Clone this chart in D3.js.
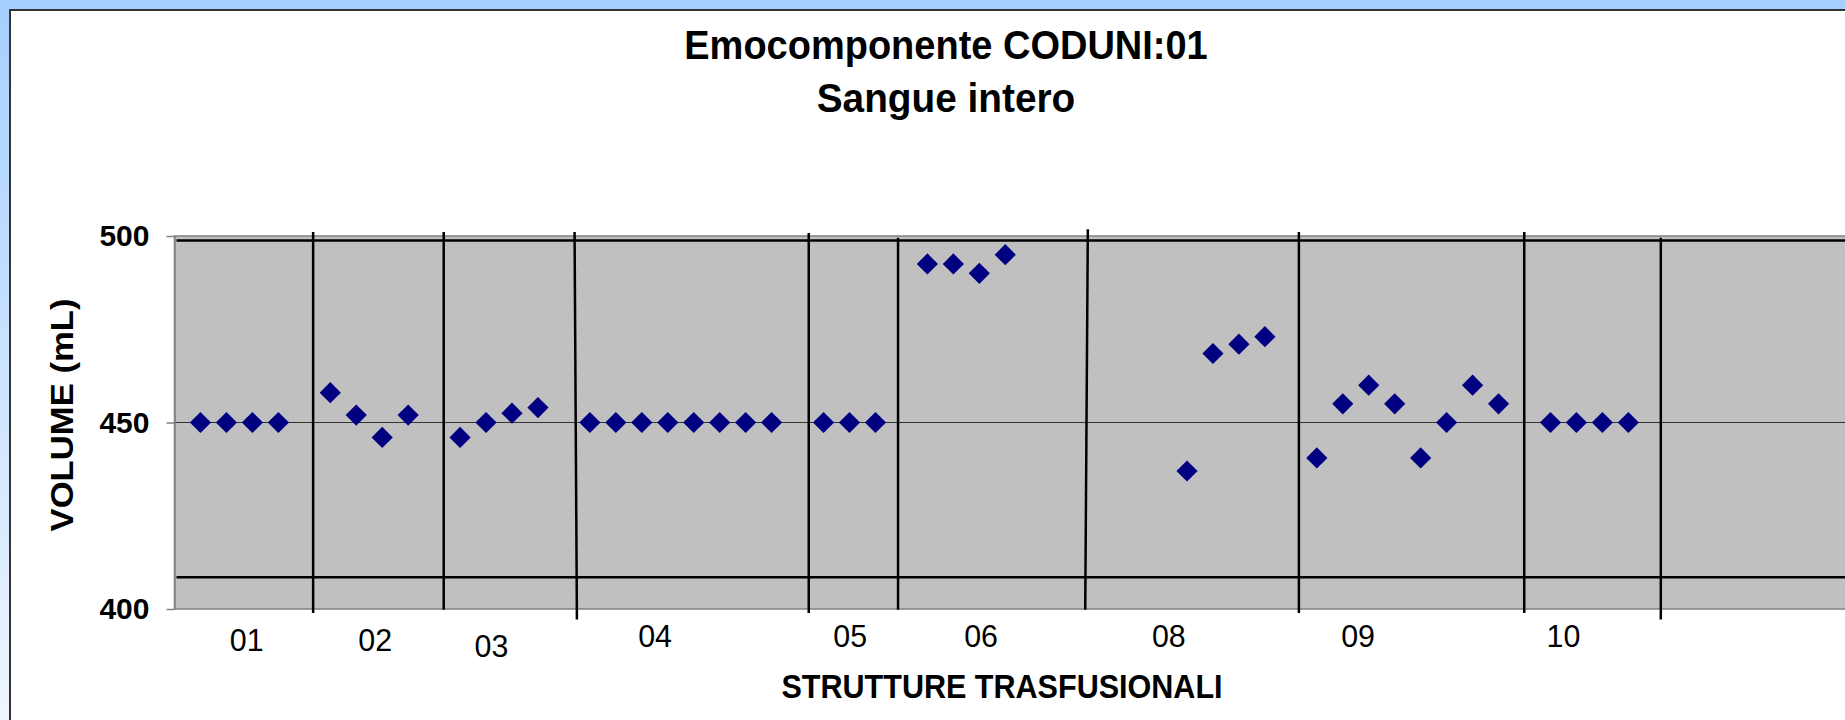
<!DOCTYPE html>
<html>
<head>
<meta charset="utf-8">
<script src="https://cdn.jsdelivr.net/npm/d3@7"></script>
<style>
    html, body { margin: 0; padding: 0; background: #fff; }
    svg { display: block; }
    text { font-family: "Liberation Sans", Arial, sans-serif; }
</style>
</head>
<body>
<div id="chart"></div>
<script>
var WIDTH = 1845,
    HEIGHT = 720;

// structures (categories) and where each one starts on the slot axis
var groupLabels = ["01", "02", "03", "04", "05", "06", "08", "09", "10"];
var groupStart = [0, 5, 10, 15, 24, 28, 38, 43, 52];
// where the hand-placed category labels sit, in slot units
var labelAt = [1.78, 6.73, 11.21, 17.51, 25.03, 30.07, 37.3, 44.59, 52.5];

// volumes (mL) per structure
var vol01 = [450, 450, 450, 450];
var vol02 = [458, 452, 446, 452];
var vol03 = [446, 450, 452.5, 454];
var vol04 = [450, 450, 450, 450, 450, 450, 450, 450];
var vol05 = [450, 450, 450];
var vol06 = [492.5, 492.5, 490, 495];
var vol08 = [437, 468.5, 471, 473];
var vol09 = [440.5, 455, 460, 455, 440.5, 450, 460, 455];
var vol10 = [450, 450, 450, 450];
var volumes = [vol01, vol02, vol03, vol04, vol05, vol06, vol08, vol09, vol10];

var yTicks = [400, 450, 500];
var limitLines = [408.5, 498.8];

// separators drawn by hand between the structures: slot at top, slot at bottom, top value, bottom value
var sepX1 = [4.34, 9.37, 14.41, 23.43, 26.87, 34.18, 42.31, 50.99, 56.25];
var sepX2 = [4.34, 9.37, 14.50, 23.43, 26.87, 34.08, 42.31, 50.99, 56.25];
var sepTop = [501.1, 501.1, 501.1, 500.8, 499.5, 501.8, 501.1, 501.1, 499.5];
var sepBottom = [398.9, 399.8, 397.2, 398.9, 399.8, 399.8, 398.9, 398.9, 397.2];

// label baselines (the text boxes were not aligned in the original)
var LABEL_BASELINE = [651, 651, 657, 647, 647, 647, 647, 647, 647];

var x = d3.scaleLinear().domain([-1, 64]).range([174.5, 1862]);
var y = d3.scaleLinear().domain([400, 500]).range([609, 236]);

var svg = d3.select("#chart")
    .append("svg")
    .attr("width", WIDTH)
    .attr("height", HEIGHT);

var defs = svg.append("defs");
var grad = defs.append("linearGradient")
    .attr("id", "bg")
    .attr("x1", 0).attr("y1", 0)
    .attr("x2", 0).attr("y2", 1);
grad.append("stop").attr("offset", "0%").attr("stop-color", "#a6cfff");
grad.append("stop").attr("offset", "100%").attr("stop-color", "#eef6ff");

svg.append("rect")
    .attr("width", WIDTH)
    .attr("height", HEIGHT)
    .attr("fill", "url(#bg)");

svg.append("rect")
    .attr("x", 10)
    .attr("y", 10)
    .attr("width", WIDTH + 20)
    .attr("height", HEIGHT + 20)
    .attr("fill", "#fff")
    .attr("stroke", "#333")
    .attr("stroke-width", 2);

// text in the original is slightly narrower than it is tall
function squeezed(g, cx, cy, sx, rot) {
    return g.append("g")
        .attr("transform", "translate(" + cx + "," + cy + ")" + (rot ? " rotate(" + rot + ")" : "") + " scale(" + sx + ",1)")
        .append("text")
        .attr("text-anchor", "middle");
}

// title
squeezed(svg, 946, 59, 0.95)
    .attr("font-size", 40)
    .attr("font-weight", "bold")
    .text("Emocomponente CODUNI:01");
squeezed(svg, 946, 112, 0.97)
    .attr("font-size", 40)
    .attr("font-weight", "bold")
    .text("Sangue intero");

// plot area
var x0 = x.range()[0], x1 = x.range()[1];

svg.append("rect")
    .attr("x", x0)
    .attr("y", y(500))
    .attr("width", x1 - x0)
    .attr("height", y(400) - y(500))
    .attr("fill", "#c0c0c0")
    .attr("stroke", "#808080")
    .attr("stroke-width", 1.5);

svg.append("line")
    .attr("x1", x0)
    .attr("x2", x1)
    .attr("y1", y(450))
    .attr("y2", y(450))
    .attr("stroke", "#333")
    .attr("stroke-width", 1);

svg.selectAll(".limit")
    .data(limitLines)
    .enter().append("line")
    .attr("class", "limit")
    .attr("x1", x0 + 2)
    .attr("x2", x1)
    .attr("y1", function (d) { return y(d); })
    .attr("y2", function (d) { return y(d); })
    .attr("stroke", "#000")
    .attr("stroke-width", 2.5);

svg.selectAll(".sep")
    .data(sepX1)
    .enter().append("line")
    .attr("class", "sep")
    .attr("x1", function (d) { return x(d); })
    .attr("x2", function (d, i) { return x(sepX2[i]); })
    .attr("y1", function (d, i) { return y(sepTop[i]); })
    .attr("y2", function (d, i) { return y(sepBottom[i]); })
    .attr("stroke", "#000")
    .attr("stroke-width", 2.5);

// y axis
var yAxis = svg.append("g")
    .attr("transform", "translate(" + x0 + ",0)")
    .call(d3.axisLeft(y)
        .tickValues(yTicks)
        .tickSize(8)
        .tickSizeOuter(0)
        .tickPadding(17)
        .tickFormat(d3.format("d")));

yAxis.select(".domain").attr("stroke", "#808080").attr("stroke-width", 1.5);
yAxis.selectAll(".tick line").attr("stroke", "#808080").attr("stroke-width", 1.5);
yAxis.selectAll(".tick text")
    .attr("font-family", "Liberation Sans, Arial, sans-serif")
    .attr("font-size", 30)
    .attr("font-weight", "bold")
    .attr("fill", "#000");

// axis title runs bottom to top, stretched along its length
svg.append("g")
    .attr("transform", "translate(73,415) rotate(-90) scale(1.1,1)")
    .append("text")
    .attr("text-anchor", "middle")
    .attr("font-size", 31.5)
    .attr("font-weight", "bold")
    .text("VOLUME (mL)");

// points
var points = [];
volumes.forEach(function (vals, g) {
    vals.forEach(function (v, k) {
        points.push({ slot: groupStart[g] + k, v: v });
    });
});

var diamond = d3.symbol().type(d3.symbolSquare).size(225);

svg.selectAll(".pt")
    .data(points)
    .enter().append("path")
    .attr("class", "pt")
    .attr("d", diamond)
    .attr("transform", function (d) {
        return "translate(" + x(d.slot) + "," + y(d.v) + ") rotate(45)";
    })
    .attr("fill", "#000080");

// category labels
svg.selectAll(".cat")
    .data(groupLabels)
    .enter().append("g")
    .attr("class", "cat")
    .attr("transform", function (d, i) {
        return "translate(" + x(labelAt[i]) + "," + LABEL_BASELINE[i] + ") scale(0.95,1)";
    })
    .append("text")
    .attr("text-anchor", "middle")
    .attr("font-size", 32)
    .attr("fill", "#000")
    .text(function (d) { return d; });

squeezed(svg, 1002, 698, 0.94)
    .attr("font-size", 32.5)
    .attr("font-weight", "bold")
    .text("STRUTTURE TRASFUSIONALI");
</script>
</body>
</html>
